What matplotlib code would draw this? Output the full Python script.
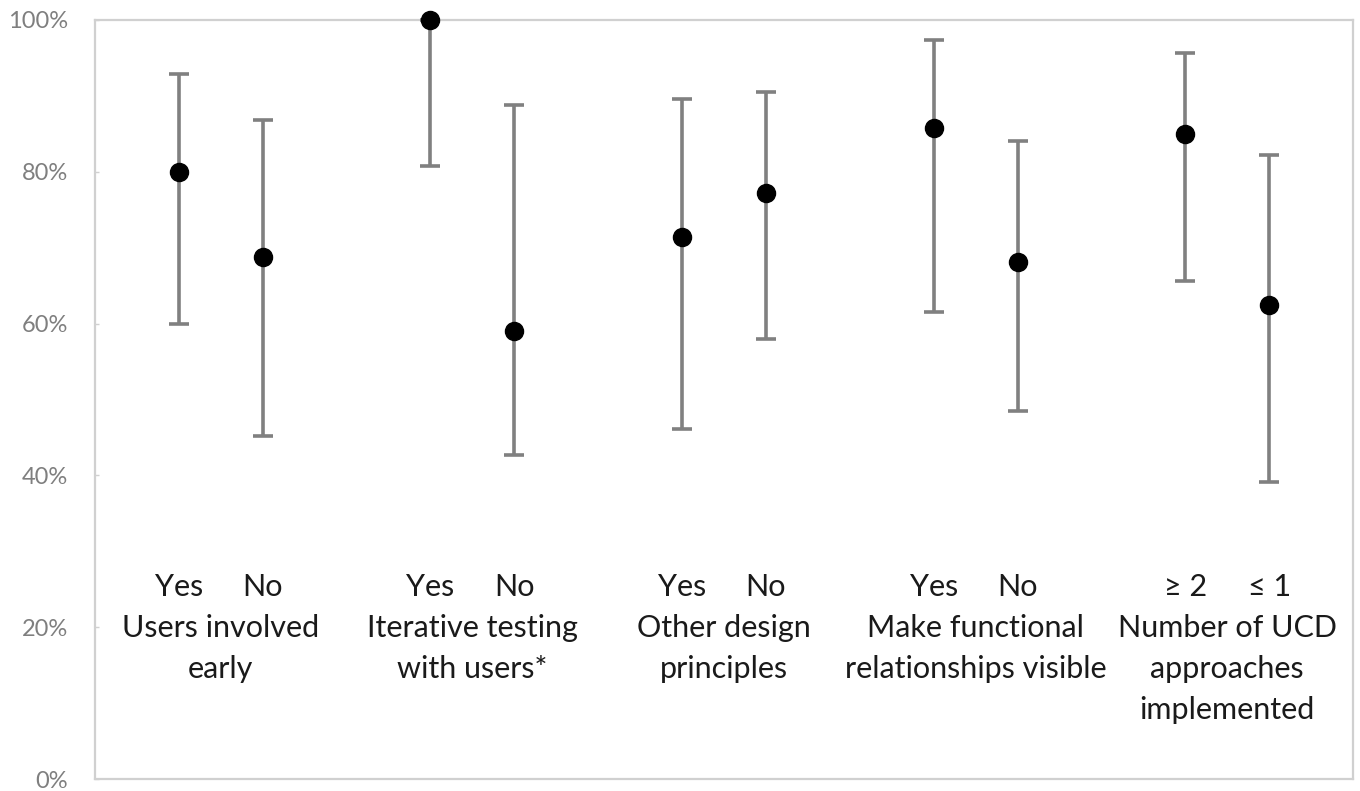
import matplotlib
matplotlib.use("Agg")
import matplotlib.pyplot as plt
from matplotlib.ticker import FuncFormatter

# Proportions (%) with confidence interval bounds for each subgroup
groups = ["Users involved\nearly",
          "Iterative testing\nwith users*",
          "Other design\nprinciples",
          "Make functional\nrelationships visible",
          "Number of UCD\napproaches\nimplemented"]
sub_labels = [["Yes", "No"], ["Yes", "No"], ["Yes", "No"], ["Yes", "No"], ["\u2265 2", "\u2264 1"]]
estimate = [80.0, 68.75, 100.0, 59.09, 71.43, 77.27, 85.71, 68.18, 85.0, 62.5]
ci_low = [59.9, 45.2, 80.7, 42.7, 46.1, 58.0, 61.5, 48.5, 65.6, 39.1]
ci_high = [92.9, 86.8, 100.0, 88.8, 89.6, 90.5, 97.4, 84.0, 95.7, 82.2]
y_ticks = [0, 20, 40, 60, 80, 100]

plt.rcParams["font.family"] = ["Lato", "DejaVu Sans"]

fig = plt.figure(figsize=(13.6, 7.91), dpi=100)
ax = fig.add_axes([95 / 1360, 12 / 791, (1353 - 95) / 1360, (779 - 20) / 791])

# two points per group, one empty slot between groups
xpos = []
for g in range(len(groups)):
    xpos += [3 * g, 3 * g + 1]

err_lo = [e - l for e, l in zip(estimate, ci_low)]
err_hi = [h - e for e, h in zip(estimate, ci_high)]

ax.errorbar(xpos, estimate, yerr=[err_lo, err_hi], fmt="o", color="black",
            markersize=13, ecolor="#808080", elinewidth=2.6, capsize=7,
            capthick=2.6, zorder=3, clip_on=False)

ax.set_xlim(-1, 14)
ax.set_ylim(0, 100)
ax.set_yticks(y_ticks)
ax.yaxis.set_major_formatter(FuncFormatter(lambda v, p: f"{v:.0f}%"))
ax.set_xticks([])
ax.tick_params(axis="y", direction="in", length=3, width=1, color="#d0d0d0",
               labelsize=17, labelcolor="#7f7f7f", pad=19.5)

for side in ["left", "right", "top", "bottom"]:
    ax.spines[side].set_color("#d0d0d0")
    ax.spines[side].set_linewidth(1.6)
    ax.spines[side].set_zorder(1)

# category labels written inside the plot area, one line at a time
label_kw = dict(fontsize=22, color="#1a1a1a", ha="center", va="center")
row_y = 25.3
line_step = 5.4
for g, (title, subs) in enumerate(zip(groups, sub_labels)):
    x0, x1 = 3 * g, 3 * g + 1
    ax.text(x0, row_y, subs[0], **label_kw)
    ax.text(x1, row_y, subs[1], **label_kw)
    for i, line in enumerate(title.split("\n")):
        ax.text((x0 + x1) / 2, row_y - line_step * (i + 1), line, **label_kw)

fig.savefig("out.png", dpi=100)
